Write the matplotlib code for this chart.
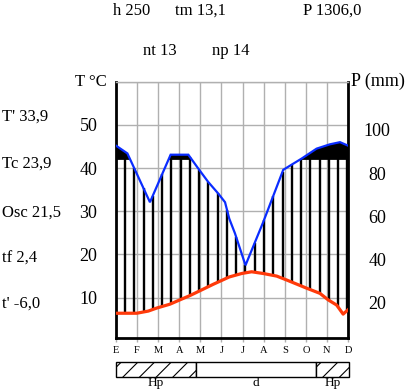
import matplotlib.pyplot as plt
import numpy as np
from matplotlib.patches import Rectangle
from matplotlib.transforms import ScaledTranslation

plt.rcParams['font.family'] = ['Liberation Serif', 'DejaVu Serif']

# month axis (E = enero ... D = diciembre), points at month index
months = ['E', 'F', 'M', 'A', 'M', 'J', 'J', 'A', 'S', 'O', 'N', 'D']

# precipitation curve (mm)
prec_x = [0, 0.54, 1.61, 2.59, 3.43, 3.90, 4.37, 4.85, 5.17, 5.37,
          5.64, 6.14, 6.98, 7.93, 8.33, 8.80, 9.51, 10.14, 10.62, 11.0]
prec_mm = [90.4, 86.8, 64.2, 86.2, 86.2, 79.8, 73.6, 68.2, 64.2, 56.6,
           49.8, 35.0, 55.0, 79.2, 81.6, 84.4, 89.0, 91.0, 92.0, 90.4]

# temperature curve (C)
temp_x = [0, 0.98, 1.53, 1.93, 2.56, 3.03, 3.51, 4.06, 4.61, 5.37, 5.96,
          6.43, 6.98, 7.62, 8.09, 9.04, 9.67, 10.06, 10.46, 10.77, 11.0]
temp_c = [6.4, 6.4, 6.9, 7.6, 8.5, 9.5, 10.5, 11.8, 13.1, 14.8, 15.6,
          16.0, 15.6, 15.0, 14.1, 12.2, 11.0, 9.5, 8.3, 6.2, 7.2]

humid_mm = 83.8  # above this the area is filled black

# period bar under the plot
period_edges = [0, 3.78, 9.43, 11]
period_labels = ['Hp', 'd', 'Hp']
period_hatched = [True, False, True]

# station figures
top_texts = [('h 250', 113, 15), ('tm 13,1', 175, 15), ('P 1306,0', 303, 15),
             ('nt 13', 143, 55), ('np 14', 212, 55)]
side_texts = [("T' 33,9", 121), ('Tc 23,9', 168), ('Osc 21,5', 217),
              ('tf 2,4', 263), ("t' -6,0", 308)]

t_ticks = [10, 20, 30, 40, 50]
p_ticks = [20, 40, 60, 80, 100]

W, H = 415, 392
fig = plt.figure(figsize=(W / 100, H / 100), dpi=100)

x0, x1, y0, y1 = 116, 348, 81.7, 338.3
ax = fig.add_axes([x0 / W, 1 - y1 / H, (x1 - x0) / W, (y1 - y0) / H])
ax.set_xlim(0, 11)
ax.set_ylim(0.6, 60)

ax.set_xticks(range(12))
ax.set_xticklabels(months, fontsize=7.5)
ax.set_yticks(t_ticks + [60])
ax.set_yticklabels([str(t) for t in t_ticks] + [''], fontsize=13)
ax.tick_params(axis='x', length=3, color='#b0b0b0', width=1, pad=2.5)
ax.tick_params(axis='y', length=0, pad=13.5)
ax.grid(True, color='#b0b0b0', lw=1)
ax.set_axisbelow(True)
for s in ['left', 'right', 'bottom']:
    ax.spines[s].set_linewidth(2)
    ax.spines[s].set_color('black')
ax.spines['top'].set_color('#b0b0b0')
ax.spines['top'].set_linewidth(1)

px = np.array(prec_x)
pt = np.array(prec_mm) / 2.0  # 2 mm per degree
thr = humid_mm / 2.0

# hatch lines between temperature and precipitation
hx = np.linspace(0.43, 10.97, 25)
h_lo = np.interp(hx, temp_x, temp_c)
h_hi = np.interp(hx, px, pt)
ax.vlines(hx, h_lo, h_hi, color='black', lw=1.7, zorder=2)

# black area above the humid limit
ax.fill_between(px, thr, pt, where=pt > thr, interpolate=True,
                color='black', lw=0, zorder=3)

ax.plot(px, pt, color='#0a2cff', lw=1.6, zorder=4, solid_joinstyle='miter')
ax.plot(temp_x, temp_c, color='#ff3a0a', lw=2.3, zorder=5)

# right axis in mm
ax2 = ax.twinx()
ax2.set_ylim(1.2, 120)
ax2.set_yticks(p_ticks)
ax2.set_yticklabels([str(p) for p in p_ticks], fontsize=13)
ax2.tick_params(axis='y', length=0, pad=21)
for lab in ax2.get_yticklabels():
    lab.set_horizontalalignment('center')
    lab.set_transform(lab.get_transform() + ScaledTranslation(0, -0.05, fig.dpi_scale_trans))
for s in ax2.spines.values():
    s.set_visible(False)

# period bar
bx = fig.add_axes([x0 / W, 1 - 376.7 / H, (349 - x0) / W, (376.7 - 362.3) / H])
bx.set_xlim(0, 11)
bx.set_ylim(0, 1)
bx.axis('off')
plt.rcParams['hatch.linewidth'] = 0.8
for i, lab in enumerate(period_labels):
    a, b = period_edges[i], period_edges[i + 1]
    bx.add_patch(Rectangle((a, 0), b - a, 1, facecolor='white', edgecolor='black',
                           lw=1, hatch='//' if period_hatched[i] else None, clip_on=False))
    bx.text((a + b) / 2, -0.05, lab, ha='center', va='top', fontsize=9.5)

# labels and station data
fig.text(75 / W, 1 - 86 / H, 'T °C', fontsize=12, ha='left', va='baseline')
fig.text(351 / W, 1 - 86 / H, 'P (mm)', fontsize=13, ha='left', va='baseline')
for txt, x, y in top_texts:
    fig.text(x / W, 1 - y / H, txt, fontsize=12, ha='left', va='baseline')
for txt, y in side_texts:
    fig.text(2 / W, 1 - y / H, txt, fontsize=12, ha='left', va='baseline')

plt.savefig('out.png', dpi=100)
plt.close()
